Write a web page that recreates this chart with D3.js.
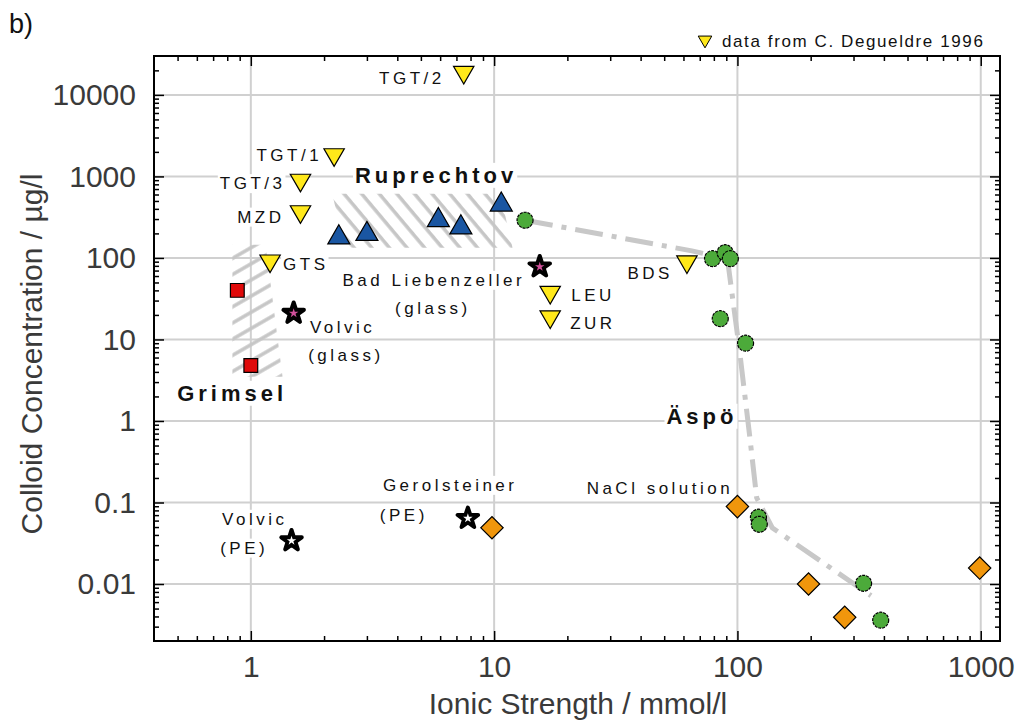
<!DOCTYPE html>
<html>
<head>
<meta charset="utf-8">
<script src="https://cdn.jsdelivr.net/npm/d3@7"></script>
<style>
body{margin:0;background:#fff;}
text{font-family:"Liberation Sans",Arial,sans-serif;}
</style>
</head>
<body>
<div id="container"></div>
<script>
// data from C. Degueldre 1996 (yellow, down triangles)
const degNames = ["TGT/2","TGT/1","TGT/3","MZD","GTS","BDS","LEU","ZUR"];
const degIS = [7.5, 2.2, 1.6, 1.6, 1.2, 62, 17, 17];
const degCC = [19000, 1850, 900, 370, 92, 90, 38, 19];
// Ruprechtov (blue triangles)
const rupIS = [2.3, 3.0, 5.9, 7.3, 10.7];
const rupCC = [178, 196, 290, 236, 450];
// Äspö (green circles)
const aspIS = [13.4, 79, 89, 93.5, 85, 108, 122, 123, 330, 388];
const aspCC = [290, 98, 116, 98, 18, 9, 0.066, 0.054, 0.0102, 0.0036];
// NaCl solution (orange diamonds)
const naclIS = [9.8, 100, 196, 276, 990];
const naclCC = [0.049, 0.089, 0.0100, 0.0039, 0.0157];
// Grimsel (red squares)
const grimIS = [0.88, 1.0];
const grimCC = [40, 4.8];
// mineral waters (stars)
const waterIS = [1.5, 15.4, 1.47, 7.8];
const waterCC = [21, 78, 0.034, 0.064];
const waterGlass = [true, true, false, false];
// Äspö trend line
const trendIS = [13.4, 65, 91, 102, 112, 120, 139, 354];
const trendCC = [290, 122, 97, 7.3, 0.7, 0.114, 0.049, 0.0072];
// hatched fields
const rupField = [[2.16, 611], [10.6, 611], [11.9, 133], [2.44, 133]];
const grimField = [[0.84, 145], [1.15, 145], [1.35, 3.5], [0.84, 3.5]];

const xTicks = [1, 10, 100, 1000];
const yTicks = [0.01, 0.1, 1, 10, 100, 1000, 10000];

// text annotations (data coordinates)
const notes = [
  {t: "Ruprechtov", x: 2.68, y: 834, bold: true},
  {t: "Bad Liebenzeller", x: 5.65, y: 45.5, anchor: "middle"},
  {t: "(glass)", x: 5.6, y: 20.7, anchor: "middle"},
  {t: "Volvic", x: 1.75, y: 12.1},
  {t: "(glass)", x: 1.72, y: 5.5},
  {t: "Grimsel", x: 0.498, y: 1.77, bold: true},
  {t: "Äspö", x: 51.1, y: 0.925, bold: true},
  {t: "NaCl solution", x: 24, y: 0.128},
  {t: "Gerolsteiner", x: 3.49, y: 0.139},
  {t: "(PE)", x: 3.39, y: 0.0597},
  {t: "Volvic", x: 0.762, y: 0.0533},
  {t: "(PE)", x: 0.748, y: 0.0236}
];
// label offsets for the Degueldre points
const degLab = [
  ["end", -19, 12], ["end", -12, 6], ["end", -15, 9], ["end", -16, 11],
  ["start", 13, 9], ["end", -14, 17], ["start", 21, 9], ["start", 20, 12]
];

const W = 1022, H = 720;
const L = 154, R = 1000, T = 56, B = 641;

const x = d3.scaleLog().domain([0.4, 1200]).range([L, R]);
const y = d3.scaleLog().domain([0.002, 30000]).range([B, T]);

const minorX = [], minorY = [];
[0.1, 1, 10, 100, 1000].forEach(dec => {
  for (let k = 2; k <= 9; k++) {
    const v = dec * k;
    if (v > 0.4 && v < 1200) minorX.push(v);
  }
});
[0.001, 0.01, 0.1, 1, 10, 100, 1000, 10000].forEach(dec => {
  for (let k = 2; k <= 9; k++) {
    const v = dec * k;
    if (v > 0.002 && v < 30000) minorY.push(v);
  }
});

const svg = d3.select("#container").append("svg")
  .attr("width", W).attr("height", H);

const defs = svg.append("defs");
defs.append("pattern").attr("id", "hatchR")
  .attr("patternUnits", "userSpaceOnUse")
  .attr("width", 13.5).attr("height", 13.5)
  .attr("patternTransform", "rotate(-40)")
  .append("line")
  .attr("x1", 4).attr("y1", 0).attr("x2", 4).attr("y2", 13.5)
  .attr("stroke", "#c6c6c6").attr("stroke-width", 3.5);
defs.append("pattern").attr("id", "hatchG")
  .attr("patternUnits", "userSpaceOnUse")
  .attr("width", 14).attr("height", 14)
  .attr("patternTransform", "rotate(60)")
  .append("line")
  .attr("x1", 4).attr("y1", 0).attr("x2", 4).attr("y2", 14)
  .attr("stroke", "#c6c6c6").attr("stroke-width", 3.5);

// grid
svg.append("g").selectAll("line").data(xTicks).enter().append("line")
  .attr("x1", d => x(d)).attr("x2", d => x(d))
  .attr("y1", T).attr("y2", B)
  .attr("stroke", "#d0d0d0").attr("stroke-width", 2);
svg.append("g").selectAll("line").data(yTicks).enter().append("line")
  .attr("x1", L).attr("x2", R)
  .attr("y1", d => y(d)).attr("y2", d => y(d))
  .attr("stroke", "#d0d0d0").attr("stroke-width", 2);

// hatched fields
const poly = d3.line().x(d => x(d[0])).y(d => y(d[1]));
svg.append("path").attr("d", poly(rupField) + "Z").attr("fill", "url(#hatchR)");
svg.append("path").attr("d", poly(grimField) + "Z").attr("fill", "url(#hatchG)");

// trend
const trend = trendIS.map((v, i) => [v, trendCC[i]]);
svg.append("path").attr("d", poly(trend))
  .attr("fill", "none").attr("stroke", "#c8c8c8").attr("stroke-width", 5)
  .attr("stroke-dasharray", "28,9,5,9");

// labels with white background
function label(px, py, txt, anchor, bold) {
  const g = svg.append("g");
  const t = g.append("text")
    .attr("x", px).attr("y", py)
    .attr("text-anchor", anchor || "start")
    .style("font-size", bold ? "22px" : "17px")
    .style("font-weight", bold ? "bold" : "normal")
    .style("letter-spacing", bold ? "4px" : "3.5px")
    .attr("fill", "#111")
    .text(txt);
  const b = t.node().getBBox();
  g.insert("rect", "text")
    .attr("x", b.x - 2).attr("y", b.y).attr("width", b.width + 2).attr("height", b.height)
    .attr("fill", "#fff");
}
notes.forEach(n => label(x(n.x), y(n.y), n.t, n.anchor, n.bold));
degNames.forEach((n, i) => {
  const o = degLab[i];
  label(x(degIS[i]) + o[1], y(degCC[i]) + o[2], n, o[0], false);
});

// markers
const sym = (type, size) => d3.symbol().type(type).size(size)();

svg.append("g").selectAll("path").data(grimIS).enter().append("path")
  .attr("d", sym(d3.symbolSquare, 190))
  .attr("transform", (d, i) => `translate(${x(d)},${y(grimCC[i])})`)
  .attr("fill", "#e00a0a").attr("stroke", "#000").attr("stroke-width", 1.2);

svg.append("g").selectAll("path").data(rupIS).enter().append("path")
  .attr("d", sym(d3.symbolTriangle, 210))
  .attr("transform", (d, i) => `translate(${x(d)},${y(rupCC[i])})`)
  .attr("fill", "#1a56a2").attr("stroke", "#000").attr("stroke-width", 1.2);

svg.append("g").selectAll("path").data(degIS).enter().append("path")
  .attr("d", sym(d3.symbolTriangle, 180))
  .attr("transform", (d, i) => `translate(${x(d)},${y(degCC[i])}) rotate(180)`)
  .attr("fill", "#ffe81a").attr("stroke", "#000").attr("stroke-width", 1.2);

svg.append("g").selectAll("path").data(naclIS).enter().append("path")
  .attr("d", sym(d3.symbolSquare, 250))
  .attr("transform", (d, i) => `translate(${x(d)},${y(naclCC[i])}) rotate(45)`)
  .attr("fill", "#f0960c").attr("stroke", "#000").attr("stroke-width", 1.2);

svg.append("g").selectAll("circle").data(aspIS).enter().append("circle")
  .attr("cx", d => x(d)).attr("cy", (d, i) => y(aspCC[i])).attr("r", 8)
  .attr("fill", "#4caa3a").attr("stroke", "#000").attr("stroke-width", 1.2)
  .attr("stroke-dasharray", "3,1");

const stars = svg.append("g").selectAll("g").data(waterIS).enter().append("g")
  .attr("transform", (d, i) => `translate(${x(d)},${y(waterCC[i])})`);
stars.append("path").attr("d", sym(d3.symbolStar, 130))
  .attr("fill", "#000").attr("stroke", "#000").attr("stroke-width", 4)
  .attr("stroke-linejoin", "round");
stars.append("path").attr("d", sym(d3.symbolStar, 28))
  .attr("fill", (d, i) => waterGlass[i] ? "#d0509a" : "#fff");

// axes (ticks inside on all four sides)
function ax(gen, tr, vals, size, fmt, pad) {
  const g = svg.append("g").attr("transform", tr)
    .call(gen.tickValues(vals).tickSize(size).tickPadding(pad || 3).tickFormat(fmt));
  g.select(".domain").remove();
  g.selectAll(".tick line").attr("stroke", "#000").attr("stroke-width", 1.5);
  return g;
}
const fmt = d3.format("~g");
ax(d3.axisBottom(x), `translate(0,${B})`, minorX, -5, "");
ax(d3.axisTop(x), `translate(0,${T})`, minorX, -5, "");
ax(d3.axisTop(x), `translate(0,${T})`, xTicks, -10, "");
ax(d3.axisLeft(y), `translate(${L},0)`, minorY, -5, "");
ax(d3.axisRight(y), `translate(${R},0)`, minorY, -5, "");
ax(d3.axisRight(y), `translate(${R},0)`, yTicks, -10, "");
const xa = ax(d3.axisBottom(x), `translate(0,${B})`, xTicks, -10, fmt, 15);
const ya = ax(d3.axisLeft(y), `translate(${L},0)`, yTicks, -10, fmt, 18);
[xa, ya].forEach(g => g.selectAll("text")
  .style("font-size", "30px").attr("fill", "#3a3a3a")
  .style("font-family", '"Liberation Sans",Arial,sans-serif'));

svg.append("rect").attr("x", L).attr("y", T).attr("width", R - L).attr("height", B - T)
  .attr("fill", "none").attr("stroke", "#000").attr("stroke-width", 2);

// titles
svg.append("text").attr("x", 578).attr("y", 714).attr("text-anchor", "middle")
  .style("font-size", "30px").attr("fill", "#3a3a3a").text("Ionic Strength / mmol/l");
svg.append("text").attr("transform", `translate(42,354) rotate(-90)`).attr("text-anchor", "middle")
  .style("font-size", "30px").attr("fill", "#3a3a3a").text("Colloid Concentration / µg/l");
svg.append("text").attr("x", 9).attr("y", 33).style("font-size", "27px").attr("fill", "#111").text("b)");

// legend
svg.append("path").attr("d", sym(d3.symbolTriangle, 80))
  .attr("transform", "translate(705,40) rotate(180)")
  .attr("fill", "#ffe81a").attr("stroke", "#000").attr("stroke-width", 1);
svg.append("text").attr("x", 722).attr("y", 47)
  .style("font-size", "17px").style("letter-spacing", "1.6px").attr("fill", "#111")
  .text("data from C. Degueldre 1996");
</script>
</body>
</html>
